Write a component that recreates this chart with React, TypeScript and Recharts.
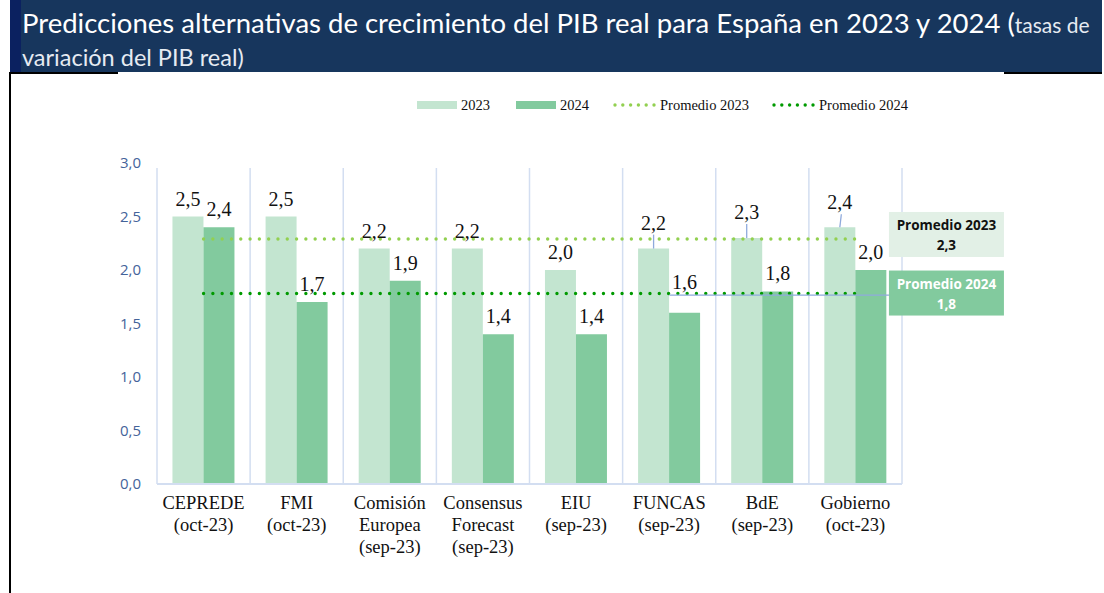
import React from 'react';
import { ComposedChart, Bar, Line, XAxis, YAxis, ReferenceLine, LabelList } from 'recharts';

const categorias = ['CEPREDE', 'FMI', 'Comisión Europea', 'Consensus Forecast', 'EIU', 'FUNCAS', 'BdE', 'Gobierno'];
const fechas = ['oct-23', 'oct-23', 'sep-23', 'sep-23', 'sep-23', 'sep-23', 'sep-23', 'oct-23'];
const pib2023 = [2.5, 2.5, 2.2, 2.2, 2.0, 2.2, 2.3, 2.4];
const pib2024 = [2.4, 1.7, 1.9, 1.4, 1.4, 1.6, 1.8, 2.0];
const promedio2023 = 2.29;
const promedio2024 = 1.78;
const yTicks = [0, 0.5, 1, 1.5, 2, 2.5, 3];

// cuanto se suben algunas etiquetas (como en el original, con linea guia)
const subir2023 = [0, 0, 0, 0, 0, 8, 8, 7];
const subir2024 = [0, 0, 0, 0, 0, 13, 0, 0];

const data = categorias.map((c, i) => ({
  name: c,
  fecha: fechas[i],
  v2023: pib2023[i],
  v2024: pib2024[i],
  p2023: promedio2023,
  p2024: promedio2024,
}));

const C2023 = '#C3E5D0';
const C2024 = '#82CA9E';
const P2023 = '#92D050';
const P2024 = '#009A00';
const GRID = '#D3DEF1';
const SERIF = '"Liberation Serif", "Times New Roman", serif';
const SANS = '"Open Sans", "Noto Sans", sans-serif';

const fmt = (v: number) => v.toFixed(1).replace('.', ',');

const barLabel = (subir: number[], leader: boolean) => (props: any) => {
  const { x, y, width, value, index } = props;
  const cx = x + width / 2;
  const s = subir[index] || 0;
  const base = y - 11 - s;
  return (
    <g>
      {leader && s > 0 && (
        <line x1={cx + (index === 7 ? 1.5 : 0)} y1={base + 5} x2={cx} y2={y} stroke="#8FAADC" strokeWidth={1.3} />
      )}
      <text x={cx} y={base} textAnchor="middle" fontFamily={SERIF} fontSize={20} fill="#111">
        {fmt(value)}
      </text>
    </g>
  );
};

const promBox = (titulo: string, fill: string, color: string, leaderFrom: number) => (props: any) => {
  const { x, y, index, value } = props;
  if (index !== 7) return null;
  const bx = x + 33.5;
  const top = y - 27 + (leaderFrom >= 0 ? 4 : 0);
  return (
    <g>
      {leaderFrom >= 0 && (
        <line x1={x - 186} y1={y + 1.5} x2={bx} y2={y + 1.5} stroke="#8FAADC" strokeWidth={1.3} />
      )}
      <rect x={bx} y={top} width={115} height={45} fill={fill} />
      <text x={bx + 57.5} y={top + 18} textAnchor="middle" fontFamily={SANS} fontWeight={700} fontSize={13.5} fill={color}>
        {titulo}
      </text>
      <text x={bx + 57.5} y={top + 38} textAnchor="middle" fontFamily={SANS} fontWeight={700} fontSize={13.5} fill={color}>
        {fmt(value)}
      </text>
    </g>
  );
};

const CategoryTick = (props: any) => {
  const { x, y, payload, index } = props;
  const lines = [...String(payload.value).split(' '), `(${fechas[index]})`];
  return (
    <g>
      {lines.map((l, i) => (
        <text key={i} x={x} y={y + 25 + i * 22} textAnchor="middle" fontFamily={SERIF} fontSize={18.5} fill="#111">
          {l}
        </text>
      ))}
    </g>
  );
};

const gridShape = (props: any) => (
  <line x1={props.x1} y1={props.y1} x2={props.x2} y2={props.y2 + 5} stroke={GRID} strokeWidth={1.5} />
);

const Legend = () => {
  const dots = (x: number, color: string) =>
    [0, 1, 2, 3, 4, 5].map((k) => <circle key={k} cx={x + 2 + k * 7.8} cy={105} r={1.7} fill={color} />);
  const txt = { fontFamily: SERIF, fontSize: 14.5, fill: '#111' };
  return (
    <svg width={1104} height={130} style={{ position: 'absolute', left: 0, top: 0 }}>
      <rect x={417} y={101} width={40} height={8} fill={C2023} />
      <text x={461} y={110} {...txt}>2023</text>
      <rect x={516} y={101} width={40} height={8} fill={C2024} />
      <text x={560} y={110} {...txt}>2024</text>
      {dots(613, P2023)}
      <text x={660} y={110} {...txt}>Promedio 2023</text>
      {dots(772, P2024)}
      <text x={819} y={110} {...txt}>Promedio 2024</text>
    </svg>
  );
};

export default function App() {
  return (
    <div style={{ position: 'fixed', left: 0, top: 0, width: 1104, height: 593, background: '#fff', overflow: 'hidden' }}>
      <div
        style={{
          position: 'absolute',
          left: 10,
          top: 0,
          width: 1092,
          height: 72,
          background: '#17365D',
          borderLeft: '11px solid #0B2160',
          boxSizing: 'border-box',
          color: '#fff',
          fontFamily: 'Lato, "Open Sans", sans-serif',
          paddingLeft: 1,
          paddingTop: 6,
        }}
      >
        <div style={{ fontSize: 27.5, lineHeight: '34px', whiteSpace: 'nowrap' }}>
          Predicciones alternativas de crecimiento del PIB real para España en 2023 y 2024 (
          <span style={{ fontSize: 21, color: '#E6EBF2' }}>tasas de</span>
        </div>
        <div style={{ fontSize: 23.5, lineHeight: '30px', color: '#E6EBF2' }}>variación del PIB real)</div>
      </div>
      <div style={{ position: 'absolute', left: 9, top: 72, width: 2, height: 521, background: '#000' }} />
      <div style={{ position: 'absolute', left: 9, top: 72, width: 109, height: 2, background: '#000' }} />
      <div style={{ position: 'absolute', left: 1004, top: 72, width: 98, height: 2, background: '#000' }} />
      <Legend />
      <div style={{ position: 'absolute', left: 0, top: 0 }}>
        <ComposedChart
          width={1104}
          height={593}
          data={data}
          margin={{ top: 163, right: 202, bottom: 79, left: 117 }}
          barCategoryGap="16.6%"
          barGap={0}
        >
          <XAxis
            dataKey="name"
            tick={<CategoryTick />}
            tickLine={false}
            tickSize={0}
            tickMargin={0}
            axisLine={{ stroke: GRID, strokeWidth: 2 }}
            height={30}
            interval={0}
          />
          <YAxis
            domain={[0, 3]}
            ticks={yTicks}
            width={40}
            axisLine={false}
            tickLine={false}
            tickSize={8}
            tickMargin={8}
            tickFormatter={(v: number) => fmt(v)}
            tick={{ fontFamily: SANS, fontSize: 15, fill: '#44639A' }}
          />
          {categorias.map((c) => (
            <ReferenceLine key={c} x={c} position="start" shape={gridShape} />
          ))}
          <ReferenceLine x={categorias[categorias.length - 1]} position="end" shape={gridShape} />
          <Bar dataKey="v2023" name="2023" fill={C2023} isAnimationActive={false}>
            <LabelList dataKey="v2023" content={barLabel(subir2023, true)} />
          </Bar>
          <Bar dataKey="v2024" name="2024" fill={C2024} isAnimationActive={false}>
            <LabelList dataKey="v2024" content={barLabel(subir2024, false)} />
          </Bar>
          <Line
            dataKey="p2023"
            name="Promedio 2023"
            stroke={P2023}
            strokeWidth={3.4}
            strokeDasharray="0 9.3"
            strokeLinecap="round"
            dot={false}
            activeDot={false}
            isAnimationActive={false}
          >
            <LabelList dataKey="p2023" content={promBox('Promedio 2023', '#E2F0E6', '#111', -1)} />
          </Line>
          <Line
            dataKey="p2024"
            name="Promedio 2024"
            stroke={P2024}
            strokeWidth={3.4}
            strokeDasharray="0 9.3"
            strokeLinecap="round"
            dot={false}
            activeDot={false}
            isAnimationActive={false}
          >
            <LabelList dataKey="p2024" content={promBox('Promedio 2024', C2024, '#fff', 5)} />
          </Line>
        </ComposedChart>
      </div>
    </div>
  );
}
